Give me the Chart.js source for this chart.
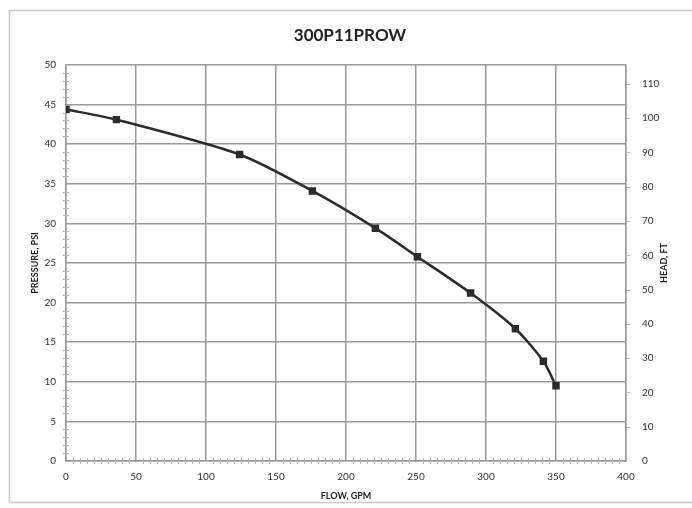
<!DOCTYPE html>
<html>
<head>
<meta charset="utf-8">
<script src="https://cdn.jsdelivr.net/npm/chart.js@4"></script>
<style>
  html, body { margin: 0; padding: 0; background: #fff; }
  #wrap { width: 692px; height: 508px; }
</style>
</head>
<body>
<div id="wrap"><canvas id="pump" width="692" height="508"></canvas></div>
<script>
// --- Data ---
const chartTitle = "300P11PROW";
const flowGpm = [0, 36, 124, 176, 221, 251, 289, 321, 341, 350];
const pressurePsi = [44.4, 43.1, 38.7, 34.1, 29.4, 25.8, 21.2, 16.7, 12.6, 9.5];
const psiToFt = 2.31;

const xTitle = "FLOW, GPM";
const yTitle = "PRESSURE, PSI";
const y2Title = "HEAD, FT";

const dark = "#2b2b2b";
const gridColor = "#9a9a9a";

// frame around the whole chart, minor tick marks, right axis title (reads upward)
const decorations = {
  id: "decorations",
  beforeDraw(chart) {
    const ctx = chart.ctx;
    ctx.save();
    ctx.fillStyle = "#fff";
    ctx.fillRect(0, 0, chart.width, chart.height);
    ctx.strokeStyle = "#c8c8c8";
    ctx.lineWidth = 1.5;
    ctx.strokeRect(9.5, 10.5, 690, 492);
    ctx.restore();
  },
  afterDraw(chart) {
    const ctx = chart.ctx;
    const { x, y, y2 } = chart.scales;
    ctx.save();
    ctx.strokeStyle = "#b5b5b5";
    ctx.lineWidth = 1;
    for (let v = 1; v < 50; v++) {
      if (v % 5 === 0) continue;
      const py = Math.round(y.getPixelForValue(v)) + 0.5;
      ctx.beginPath();
      ctx.moveTo(x.left - 3, py);
      ctx.lineTo(x.left + 3, py);
      ctx.stroke();
    }
    for (let v = 5; v < 400; v += 5) {
      if (v % 50 === 0) continue;
      const px = Math.round(x.getPixelForValue(v)) + 0.5;
      ctx.beginPath();
      ctx.moveTo(px, y.bottom - 3);
      ctx.lineTo(px, y.bottom + 3);
      ctx.stroke();
    }
    for (let v = 10; v <= 110; v += 10) {
      const py = Math.round(y2.getPixelForValue(v)) + 0.5;
      ctx.beginPath();
      ctx.moveTo(y2.left, py);
      ctx.lineTo(y2.left + 4, py);
      ctx.stroke();
    }
    // right axis title, rotated to read bottom-to-top
    ctx.translate(664, (y2.top + y2.bottom) / 2);
    ctx.rotate(-Math.PI / 2);
    ctx.fillStyle = "#222";
    ctx.font = "bold 9px Lato, 'Open Sans', sans-serif";
    ctx.textAlign = "center";
    ctx.textBaseline = "middle";
    ctx.fillText(y2Title, 0, 0);
    ctx.restore();
  }
};

Chart.defaults.font.family = "Lato, 'Open Sans', sans-serif";
Chart.defaults.color = "#333";

new Chart(document.getElementById("pump"), {
  type: "scatter",
  data: {
    datasets: [{
      data: flowGpm.map((f, i) => ({ x: f, y: pressurePsi[i] })),
      showLine: true,
      borderColor: dark,
      borderWidth: 2.5,
      tension: 0.25,
      pointStyle: "rect",
      pointRadius: 3.5,
      pointBackgroundColor: dark,
      pointBorderColor: dark,
      yAxisID: "y"
    }]
  },
  plugins: [decorations],
  options: {
    responsive: false,
    animation: false,
    layout: { padding: { left: 28, right: 20, top: 0, bottom: 5 } },
    plugins: {
      legend: { display: false },
      tooltip: { enabled: false },
      title: {
        display: true,
        text: chartTitle,
        color: "#222",
        font: { size: 17, weight: "bold" },
        padding: { top: 25, bottom: 19.6 }
      }
    },
    scales: {
      x: {
        type: "linear",
        min: 0, max: 400,
        ticks: { stepSize: 50, font: { size: 10 }, color: "#333", padding: 10 },
        grid: { color: gridColor, lineWidth: 1.5, tickLength: 0 },
        border: { color: gridColor, width: 1.5 },
        title: { display: true, text: xTitle, font: { size: 9, weight: "bold" }, color: "#222", padding: 2 },
        afterFit: s => { s.height = 42; }
      },
      y: {
        position: "left",
        min: 0, max: 50,
        ticks: { stepSize: 5, font: { size: 10 }, color: "#333", padding: 10 },
        grid: { color: gridColor, lineWidth: 1.5, tickLength: 0 },
        border: { color: gridColor, width: 1.5 },
        title: { display: true, text: yTitle, font: { size: 9, weight: "bold" }, color: "#222", padding: 2 },
        afterFit: s => { s.width = 38; }
      },
      y2: {
        position: "right",
        min: 0, max: 50 * psiToFt,
        afterBuildTicks: s => { s.ticks = s.ticks.filter(t => t.value % 10 === 0); },
        ticks: { stepSize: 10, font: { size: 10 }, color: "#333", padding: 8 },
        grid: { display: false },
        border: { color: gridColor, width: 1.5 },
        afterFit: s => { s.width = 46; }
      }
    }
  }
});
</script>
</body>
</html>
